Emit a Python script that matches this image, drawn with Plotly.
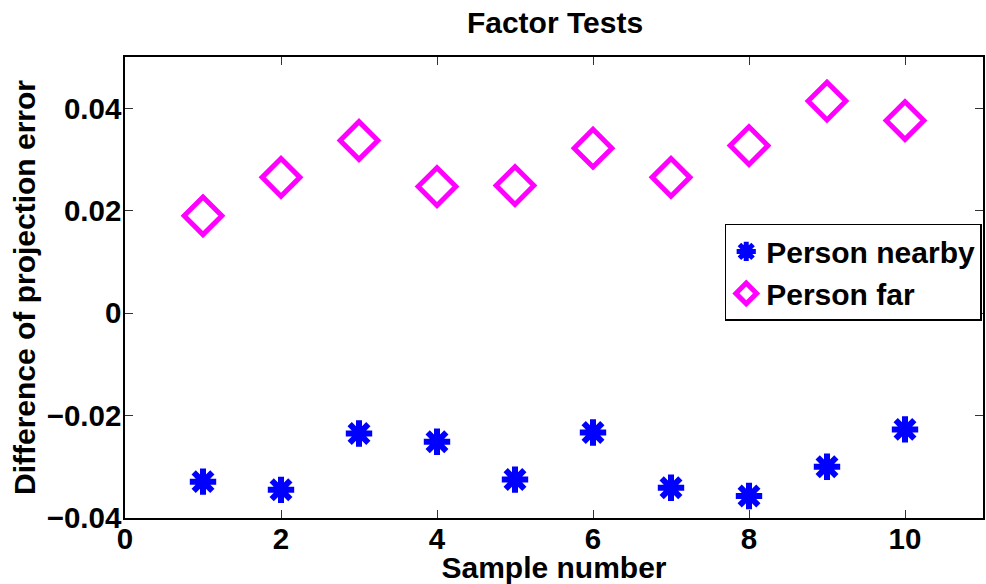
import plotly.graph_objects as go

samples = [1, 2, 3, 4, 5, 6, 7, 8, 9, 10]
person_nearby = [-0.0329, -0.0345, -0.0235, -0.0251, -0.0325, -0.0233, -0.0341, -0.0357, -0.0300, -0.0227]
person_far = [0.0190, 0.0265, 0.0337, 0.0247, 0.0249, 0.0322, 0.0265, 0.0327, 0.0414, 0.0376]
x_ticks = [0, 2, 4, 6, 8, 10]
y_ticks = [-0.04, -0.02, 0, 0.02, 0.04]

FONT = "Liberation Sans, Arial, Helvetica, sans-serif"

fig = go.Figure()
fig.add_trace(go.Scatter(
    x=samples, y=person_nearby, mode="markers", name="Person nearby",
    marker=dict(symbol="asterisk-open", size=22, color="#0000ff",
                line=dict(color="#0000ff", width=6)),
))
fig.add_trace(go.Scatter(
    x=samples, y=person_far, mode="markers", name="Person far",
    marker=dict(symbol="diamond-open", size=29, color="#ff00ff",
                line=dict(color="#ff00ff", width=5)),
))

axis_common = dict(
    showline=True, linecolor="black", linewidth=1.5, mirror="ticks",
    ticks="inside", ticklen=8, tickwidth=1, tickcolor="#333333",
    showgrid=False, zeroline=False,
    tickfont=dict(family=FONT, size=29.5, color="black", weight="bold"),
)

fig.update_layout(
    width=986, height=584,
    margin=dict(l=125, r=1, t=57, b=66),
    paper_bgcolor="white", plot_bgcolor="white",
    font=dict(family=FONT, size=29, color="black"),
    title=dict(text="Factor Tests", x=(125 + 985) / 2 / 986, xanchor="center",
               y=1 - 22 / 584, yanchor="middle",
               font=dict(family=FONT, size=30, color="black", weight="bold")),
    xaxis=dict(range=[0, 11], tickvals=x_ticks, ticklabelstandoff=-6,
               title=dict(text="Sample number", standoff=0,
                          font=dict(family=FONT, size=30, color="black", weight="bold")),
               **axis_common),
    yaxis=dict(range=[-0.04, 0.05], tickvals=y_ticks, ticklabelstandoff=-4,
               title=dict(text="Difference of projection error", standoff=2,
                          font=dict(family=FONT, size=30, color="black", weight="bold")),
               **axis_common),
    legend=dict(x=0.699, y=0.638, xanchor="left", yanchor="top",
                bgcolor="white", bordercolor="black", borderwidth=1.5,
                font=dict(family=FONT, size=30, color="black", weight="bold"),
                tracegroupgap=0),
    showlegend=True,
)

fig.write_html("out.html")
